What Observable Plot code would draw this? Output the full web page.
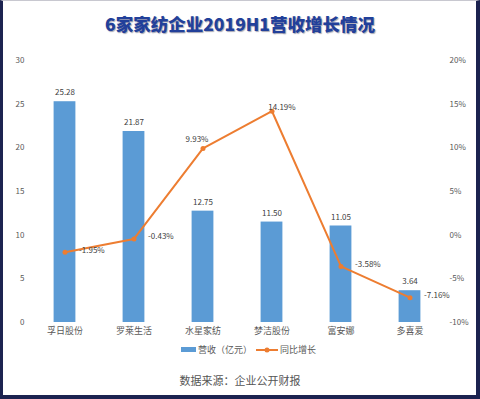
<!DOCTYPE html>
<html>
<head>
<meta charset="utf-8">
<script src="https://cdn.jsdelivr.net/npm/d3@7"></script>
<script src="https://cdn.jsdelivr.net/npm/@observablehq/plot@0.6"></script>
<style>
  html, body { margin: 0; padding: 0; background: #fff; }
  body { width: 480px; height: 399px; position: relative; overflow: hidden; font-family: "Noto Sans CJK SC", "Liberation Sans", sans-serif; }
  #frame { position: absolute; left: 0; top: 0; width: 480px; height: 399px; box-sizing: border-box;
    border-left: 3px solid #1c2350; border-right: 4px solid #1c2350; border-bottom: 4px solid #1c2350; border-top: 1px solid #c8c8d0; pointer-events: none; }
  #title { position: absolute; top: 11px; left: 0; width: 480px; text-align: center; font-size: 17.5px; font-weight: 900;
    color: #22409a; text-shadow: 1px 1px 1px rgba(0,0,40,0.35); }
  #chart { position: absolute; left: 0; top: 40px; }
  #legend { position: absolute; top: 343px; left: 181px; font-size: 9px; color: #595959; display: flex; align-items: center; white-space: nowrap; }
  #legend .sw { display: inline-block; width: 15px; height: 5px; background: #5b9bd5; margin-right: 2px; }
  #legend svg { margin: 0 2px 0 4px; }
  #caption { position: absolute; top: 372px; left: 0; width: 480px; text-align: center; font-size: 11px; color: #555; }
</style>
</head>
<body>
<div id="title">6家家纺企业2019H1营收增长情况</div>
<div id="chart"></div>
<div id="legend"><span class="sw"></span><span>营收（亿元）</span><svg width="22" height="8"><line x1="0" y1="4" x2="22" y2="4" stroke="#ed7d31" stroke-width="2"/><circle cx="11" cy="4" r="2.5" fill="#ed7d31"/></svg><span>同比增长</span></div>
<div id="caption">数据来源：企业公开财报</div>
<div id="frame"></div>
<script>
const categories = ["孚日股份", "罗莱生活", "水星家纺", "梦洁股份", "富安娜", "多喜爱"];
const revenue = [25.28, 21.87, 12.75, 11.50, 11.05, 3.64];
const growth = [-1.95, -0.43, 9.93, 14.19, -3.58, -7.16];
const leftTicks = [0, 5, 10, 15, 20, 25, 30];
const rightTicks = [-10, -5, 0, 5, 10, 15, 20];

const data = categories.map((c, i) => ({ name: c, revenue: revenue[i], growth: growth[i] }));
// secondary axis: -10%..20% mapped onto 0..30
const g2y = g => g + 10;

const chart = Plot.plot({
  width: 480,
  height: 305,
  marginLeft: 30,
  marginRight: 36,
  marginTop: 20,
  marginBottom: 23,
  style: { fontFamily: "'Noto Sans CJK SC', 'Liberation Sans', sans-serif", fontSize: "8px", color: "#595959", background: "transparent" },
  x: { domain: categories, padding: 0, label: null },
  y: { domain: [0, 30], label: null },
  marks: [
    Plot.gridY(leftTicks, { stroke: "#d9d9d9", strokeOpacity: 1, x1: 30, x2: 440 }),
    Plot.axisY(leftTicks, { anchor: "left", tickSize: 0, tickPadding: 6, label: null, fill: "#595959", fontSize: 8 }),
    Plot.axisY(rightTicks.map(g2y), { anchor: "right", tickSize: 0, tickPadding: 5, label: null, tickFormat: d => (d - 10) + "%", fill: "#595959", fontSize: 8 }),
    Plot.axisX({ tickSize: 0, tickPadding: 5, label: null, fill: "#595959", fontSize: 9 }),
    Plot.barY(data, { x: "name", y: "revenue", fill: "#5b9bd5", insetLeft: 23.6, insetRight: 23.6 }),
    Plot.text(data, { x: "name", y: "revenue", text: d => d.revenue.toFixed(2), dy: -9, fill: "#404040", fontSize: 8 }),
    Plot.line(data, { x: "name", y: d => g2y(d.growth), stroke: "#ed7d31", strokeWidth: 2 }),
    Plot.dot(data, { x: "name", y: d => g2y(d.growth), fill: "#ed7d31", r: 2.5 }),
    Plot.text(data.filter(d => d.growth < 0), { x: "name", y: d => g2y(d.growth), text: d => d.growth.toFixed(2) + "%", textAnchor: "start", dx: 14, dy: -2, fill: "#404040", fontSize: 8 }),
    Plot.text(data.filter(d => d.growth >= 0 && d.growth < 12), { x: "name", y: d => g2y(d.growth), text: d => d.growth.toFixed(2) + "%", dx: -6, dy: -9, fill: "#404040", fontSize: 8 }),
    Plot.text(data.filter(d => d.growth >= 12), { x: "name", y: d => g2y(d.growth), text: d => d.growth.toFixed(2) + "%", dx: 10, dy: -4, fill: "#404040", fontSize: 8 })
  ]
});
document.getElementById("chart").appendChild(chart);
</script>
</body>
</html>
